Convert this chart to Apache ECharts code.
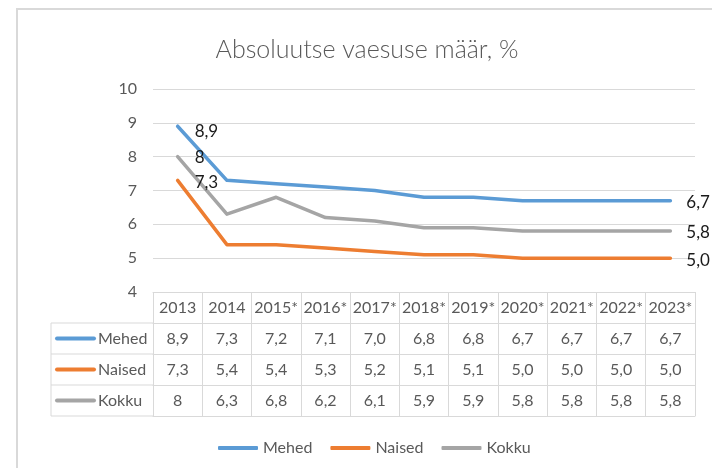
<!DOCTYPE html>
<html>
<head>
<meta charset="utf-8">
<script src="https://cdn.jsdelivr.net/npm/echarts@6/dist/echarts.min.js"></script>
<style>
  html, body { margin: 0; padding: 0; background: #fff; }
  #chart { width: 712px; height: 468px; }
</style>
</head>
<body>
<div id="chart"></div>
<script>
// andmed
var years = ['2013', '2014', '2015*', '2016*', '2017*', '2018*', '2019*', '2020*', '2021*', '2022*', '2023*'];
var mehed = [8.9, 7.3, 7.2, 7.1, 7.0, 6.8, 6.8, 6.7, 6.7, 6.7, 6.7];
var naised = [7.3, 5.4, 5.4, 5.3, 5.2, 5.1, 5.1, 5.0, 5.0, 5.0, 5.0];
var kokku = [8, 6.3, 6.8, 6.2, 6.1, 5.9, 5.9, 5.8, 5.8, 5.8, 5.8];
var yTicks = [4, 5, 6, 7, 8, 9, 10];

var FONT = 'Lato';
var GRAY = '#595959';
var LINE = '#d9d9d9';

// excel: mehed/naised "0,0", kokku general
function fmtFixed(v) { return v.toFixed(1).replace('.', ','); }
function fmtGeneral(v) { return String(v).replace('.', ','); }

var rows = [
  { name: 'Mehed', data: mehed, color: '#5b9bd5', fmt: fmtFixed, first: [1, 5], last: [0, 2] },
  { name: 'Naised', data: naised, color: '#ed7d31', fmt: fmtFixed, first: [1, 2], last: [0, 2] },
  { name: 'Kokku', data: kokku, color: '#a5a5a5', fmt: fmtGeneral, first: [1, 1], last: [0, 1] }
];

var gridLeft = 153, gridRight = 695, gridTop = 89, gridBottom = 292;
var rowH = 31;
var labelColLeft = 51;

var chart = echarts.init(document.getElementById('chart'));

var xAxes = [{
  type: 'category',
  data: years,
  position: 'bottom',
  boundaryGap: true,
  axisLine: { show: true, lineStyle: { color: LINE, width: 1 } },
  axisTick: { show: true, length: rowH * 4, interval: 0, lineStyle: { color: LINE } },
  axisLabel: { interval: 0, margin: 8, color: GRAY, fontFamily: FONT, fontSize: 16, lineHeight: 16 }
}];

rows.forEach(function (r, k) {
  xAxes.push({
    type: 'category',
    data: years,
    position: 'bottom',
    offset: rowH * (k + 1),
    axisLine: { show: true, lineStyle: { color: LINE, width: 1 } },
    axisTick: { show: false },
    axisLabel: {
      interval: 0, margin: 8, color: GRAY, fontFamily: FONT, fontSize: 16, lineHeight: 16,
      formatter: function (val, idx) { return r.fmt(r.data[idx]); }
    }
  });
});
// tabeli alumine joon
xAxes.push({
  type: 'category',
  data: years,
  position: 'bottom',
  offset: rowH * 4,
  axisLine: { show: true, lineStyle: { color: LINE, width: 1 } },
  axisTick: { show: false },
  axisLabel: { show: false }
});

var series = rows.map(function (r) {
  var last = r.data.length - 1;
  return {
    name: r.name,
    type: 'line',
    xAxisIndex: 0,
    symbol: 'circle',
    symbolSize: 0.01,
    showSymbol: true,
    showAllSymbol: true,
    color: r.color,
    lineStyle: { width: 3.5, cap: 'round', join: 'round' },
    label: { show: false },
    data: r.data.map(function (v, i) {
      if (i === 0 || i === last) {
        return {
          value: v,
          label: {
            show: true, position: 'right', distance: 16,
            offset: i === 0 ? r.first : r.last,
            formatter: function (p) { return r.fmt(p.value); },
            color: '#1a1a1a', fontFamily: FONT, fontSize: 17
          }
        };
      }
      return v;
    })
  };
});

// raam ja tabeli reapäised
var graphics = [{
  type: 'rect', z: -10, silent: true,
  shape: { x: 17, y: 9, width: 800, height: 600 },
  style: { fill: '#fff', stroke: LINE, lineWidth: 2 }
}, {
  type: 'line', silent: true,
  shape: { x1: labelColLeft, y1: gridBottom + rowH, x2: labelColLeft, y2: gridBottom + rowH * 4 },
  style: { stroke: LINE, lineWidth: 1 }
}];
for (var k = 1; k <= 4; k++) {
  graphics.push({
    type: 'line', silent: true,
    shape: { x1: labelColLeft, y1: gridBottom + rowH * k, x2: gridLeft, y2: gridBottom + rowH * k },
    style: { stroke: LINE, lineWidth: 1 }
  });
}
rows.forEach(function (r, k) {
  var cy = gridBottom + rowH * (k + 1) + rowH / 2;
  graphics.push({
    type: 'line', silent: true,
    shape: { x1: 57, y1: cy, x2: 94, y2: cy },
    style: { stroke: r.color, lineWidth: 4, lineCap: 'round' }
  });
  graphics.push({
    type: 'text', silent: true,
    x: 98, y: cy,
    style: { text: r.name, fill: GRAY, font: '16px ' + FONT, verticalAlign: 'middle' }
  });
});

chart.setOption({
  animation: false,
  backgroundColor: '#fff',
  title: {
    text: 'Absoluutse vaesuse määr, %',
    left: 362, top: 32, textAlign: 'center',
    textStyle: { color: GRAY, fontFamily: FONT, fontWeight: 300, fontSize: 25 }
  },
  legend: {
    left: 213, top: 435,
    icon: 'roundRect',
    itemWidth: 40, itemHeight: 4, itemGap: 18,
    textStyle: { color: GRAY, fontFamily: FONT, fontSize: 16 },
    data: rows.map(function (r) { return r.name; })
  },
  grid: {
    left: gridLeft, right: 712 - gridRight, top: gridTop, bottom: 468 - gridBottom,
    containLabel: false, outerBoundsMode: 'none'
  },
  xAxis: xAxes,
  yAxis: {
    type: 'value',
    min: yTicks[0], max: yTicks[yTicks.length - 1], interval: 1,
    axisLine: { show: false },
    axisTick: { show: false },
    splitLine: { lineStyle: { color: LINE, width: 1 } },
    axisLabel: { margin: 16, color: GRAY, fontFamily: FONT, fontSize: 16 }
  },
  graphic: graphics,
  series: series
});
</script>
</body>
</html>
